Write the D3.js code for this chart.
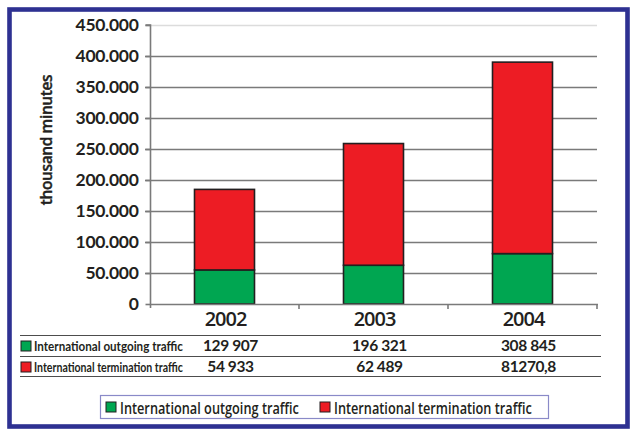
<!DOCTYPE html>
<html>
<head>
<meta charset="utf-8">
<script src="https://cdn.jsdelivr.net/npm/d3@7"></script>
<style>
  html, body { margin: 0; padding: 0; background: #fff; }
  svg { display: block; }
  text { font-family: Lato, "Open Sans", sans-serif; fill: #231f20; }
</style>
</head>
<body>
<svg id="chart" width="630" height="429"></svg>
<script>
// Traffic per year (thousand minutes)
const years = ["2002", "2003", "2004"];
const outgoing = [129907, 196321, 308845];
const termination = [54933, 62489, 81270.8];
const outgoingLabels = ["129 907", "196 321", "308 845"];
const terminationLabels = ["54 933", "62 489", "81270,8"];
const yTicks = [0, 50000, 100000, 150000, 200000, 250000, 300000, 350000, 400000, 450000];
const seriesNames = ["International outgoing traffic", "International termination traffic"];

const GREEN = "#00a651", RED = "#ed1c24", INK = "#231f20";
const SEMI = "'Open Sans', Lato, sans-serif";

const svg = d3.select("#chart");

// outer frame
svg.append("rect").attr("x", 9.5).attr("y", 9.5).attr("width", 618).attr("height", 417)
  .attr("fill", "#fff").attr("stroke", "#2e3192").attr("stroke-width", 4.6);

const plot = { left: 150, right: 597, top: 25, bottom: 304 };

const x = d3.scaleBand().domain(years).range([plot.left, plot.right]).paddingInner(0).paddingOuter(0);
const y = d3.scaleLinear().domain([0, 450000]).range([plot.bottom, plot.top]);

const fmt = d3.formatLocale({ decimal: ",", thousands: ".", grouping: [3], currency: ["", ""] }).format(",");

// gridlines
svg.append("g").selectAll("line").data(yTicks.filter(d => d > 0)).join("line")
  .attr("x1", plot.left - 5).attr("x2", plot.right)
  .attr("y1", d => Math.round(y(d)) + 0.5).attr("y2", d => Math.round(y(d)) + 0.5)
  .attr("stroke", d => d === 450000 ? "#dcdcdc" : "#7a7a7a").attr("stroke-width", 1.6);

// y axis
const yAxis = svg.append("g").attr("transform", `translate(${plot.left + 0.5},0)`)
  .call(d3.axisLeft(y).tickValues(yTicks).tickFormat(d => d === 0 ? "0" : fmt(d)).tickSize(5).tickPadding(7));
yAxis.select(".domain").attr("stroke", "#7a7a7a").attr("stroke-width", 1.6).attr("d", `M-5,${plot.top}H0V${plot.bottom + 4}`);
yAxis.selectAll(".tick line").attr("stroke", "#7a7a7a").attr("stroke-width", 1.6);
yAxis.selectAll(".tick text").attr("font-size", 17.5).attr("font-weight", 700).attr("fill", INK)
  .style("font-family", "Lato, sans-serif").attr("letter-spacing", -0.3);

// y axis title
svg.append("text").attr("transform", "translate(52,140) rotate(-90)")
  .style("font-family", SEMI)
  .attr("text-anchor", "middle").attr("font-size", 15.5).attr("font-weight", 600)
  .attr("letter-spacing", -0.4).attr("stroke", INK).attr("stroke-width", 0.35)
  .text("thousand minutes");

// stacked bars: lower segment, then upper segment on top of it
const segments = [
  { values: termination, fill: GREEN },
  { values: outgoing, fill: RED }
];
const barW = 60;
const stacks = years.map((yr, i) => {
  let base = 0;
  return segments.map(s => {
    const seg = { yr, y0: base, y1: base + s.values[i], fill: s.fill };
    base = seg.y1;
    return seg;
  });
}).flat();

svg.append("g").selectAll("rect").data(stacks).join("rect")
  .attr("x", d => x(d.yr) + x.bandwidth() / 2 - barW / 2)
  .attr("width", barW)
  .attr("y", d => y(d.y1))
  .attr("height", d => y(d.y0) - y(d.y1))
  .attr("fill", d => d.fill)
  .attr("stroke", INK).attr("stroke-width", 1.6);

// x axis
svg.append("line").attr("x1", plot.left).attr("x2", plot.right + 1)
  .attr("y1", plot.bottom + 0.5).attr("y2", plot.bottom + 0.5)
  .attr("stroke", "#7a7a7a").attr("stroke-width", 1.6);
svg.append("g").selectAll("line").data(years).join("line")
  .attr("x1", d => x(d) + x.bandwidth()).attr("x2", d => x(d) + x.bandwidth())
  .attr("y1", plot.bottom).attr("y2", plot.bottom + 5)
  .attr("stroke", "#7a7a7a").attr("stroke-width", 1.6);
svg.append("g").selectAll("text").data(years).join("text")
  .attr("x", d => x(d) + x.bandwidth() / 2 + 1).attr("y", 326)
  .style("font-family", SEMI)
  .attr("text-anchor", "middle").attr("font-size", 20).attr("font-weight", 600)
  .attr("letter-spacing", -1).text(d => d);

// data table
const tableLines = [335, 356, 376];
svg.append("g").selectAll("line").data(tableLines).join("line")
  .attr("x1", 20).attr("x2", 601).attr("y1", d => d + 0.5).attr("y2", d => d + 0.5)
  .attr("stroke", "#4d4d4d").attr("stroke-width", 1.2);

const rows = [
  { name: seriesNames[0], fill: GREEN, labels: outgoingLabels, base: 351 },
  { name: seriesNames[1], fill: RED, labels: terminationLabels, base: 372 }
];
rows.forEach(r => {
  svg.append("rect").attr("x", 21).attr("y", r.base - 10).attr("width", 10).attr("height", 10)
    .attr("fill", r.fill).attr("stroke", INK).attr("stroke-width", 1);
  // row name squeezed horizontally to fit the label column
  const t = svg.append("text").attr("x", 0).attr("y", 0).attr("font-size", 13).attr("font-weight", 700)
    .text(r.name);
  const w = t.node().getComputedTextLength();
  t.attr("transform", `translate(34,${r.base}) scale(${149 / w},1)`);
  svg.append("g").selectAll("text").data(r.labels).join("text")
    .attr("x", (d, i) => x(years[i]) + x.bandwidth() / 2 + 6).attr("y", r.base)
    .attr("text-anchor", "middle").attr("font-size", 15.5).attr("font-weight", 700)
    .attr("letter-spacing", -0.4).text(d => d);
});

// legend
svg.append("rect").attr("x", 100.5).attr("y", 395.5).attr("width", 448).attr("height", 23)
  .attr("fill", "#fff").attr("stroke", "#8a8ac8").attr("stroke-width", 1.2);
const legendItems = [
  { name: seriesNames[0], fill: GREEN, x: 106, w: 179 },
  { name: seriesNames[1], fill: RED, x: 320, w: 198 }
];
legendItems.forEach(it => {
  svg.append("rect").attr("x", it.x).attr("y", 402).attr("width", 10).attr("height", 10)
    .attr("fill", it.fill).attr("stroke", INK).attr("stroke-width", 1);
  const t = svg.append("text").attr("x", 0).attr("y", 0).style("font-family", SEMI)
    .attr("font-size", 15.5).attr("font-weight", 600).text(it.name);
  const w = t.node().getComputedTextLength();
  t.attr("transform", `translate(${it.x + 14},413.5) scale(${it.w / w},1)`);
});
</script>
</body>
</html>
